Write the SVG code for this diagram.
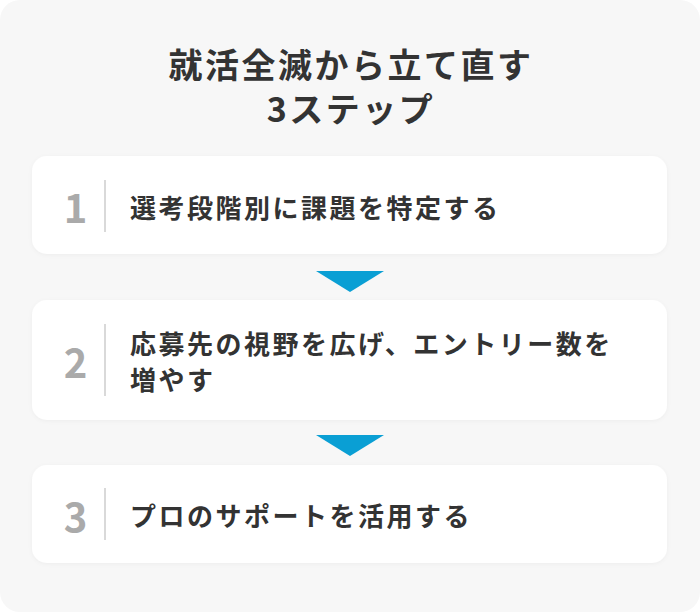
<svg xmlns="http://www.w3.org/2000/svg" width="700" height="612" viewBox="0 0 700 612">
<style>
.t{font-family:"Noto Sans CJK JP","Noto Sans",sans-serif;font-weight:700;fill:#333}
.title{font-size:34px;letter-spacing:2.5px}
.lbl{font-size:26px;letter-spacing:2.5px}
.num{font-family:"Noto Sans CJK JP","Noto Sans",sans-serif;font-weight:700;font-size:40px;fill:#aaa}
.card{fill:#fff}
.div{stroke:#ccc;stroke-width:1.5}
.arr{fill:#0a9fd4}
</style>
<defs>
<filter id="sh" x="-5%" y="-20%" width="110%" height="140%">
<feDropShadow dx="0" dy="1" stdDeviation="2" flood-color="#000" flood-opacity="0.04"/>
</filter>
</defs>
<rect x="0" y="0" width="700" height="612" rx="20" fill="#f7f7f7"/>
<g id="title">
<text class="t title" text-anchor="middle"><tspan x="351" y="78">就活全滅から立て直す</tspan><tspan x="351" y="122">3ステップ</tspan></text>
</g>
<g id="step1">
<rect class="card" x="32" y="156" width="635" height="98" rx="15" filter="url(#sh)"/>
<text class="num" x="75.5" y="223" text-anchor="middle">1</text>
<line class="div" x1="105" y1="180" x2="105" y2="232"/>
<text class="t lbl" x="130" y="218">選考段階別に課題を特定する</text>
</g>
<g id="step2">
<rect class="card" x="32" y="300" width="635" height="120" rx="15" filter="url(#sh)"/>
<text class="num" x="75.5" y="378" text-anchor="middle">2</text>
<line class="div" x1="105" y1="324" x2="105" y2="396"/>
<text class="t lbl" x="130" y="354">応募先の視野を広げ、エントリー数を</text>
<text class="t lbl" x="130" y="390">増やす</text>
</g>
<g id="step3">
<rect class="card" x="32" y="465" width="635" height="98" rx="15" filter="url(#sh)"/>
<text class="num" x="75.5" y="532" text-anchor="middle">3</text>
<line class="div" x1="105" y1="488" x2="105" y2="540"/>
<text class="t lbl" x="130" y="526">プロのサポートを活用する</text>
</g>
<g id="connectors">
<polygon class="arr" points="316,271 384,271 350,292"/>
<polygon class="arr" points="316,435 384,435 350,456"/>
</g>
</svg>
